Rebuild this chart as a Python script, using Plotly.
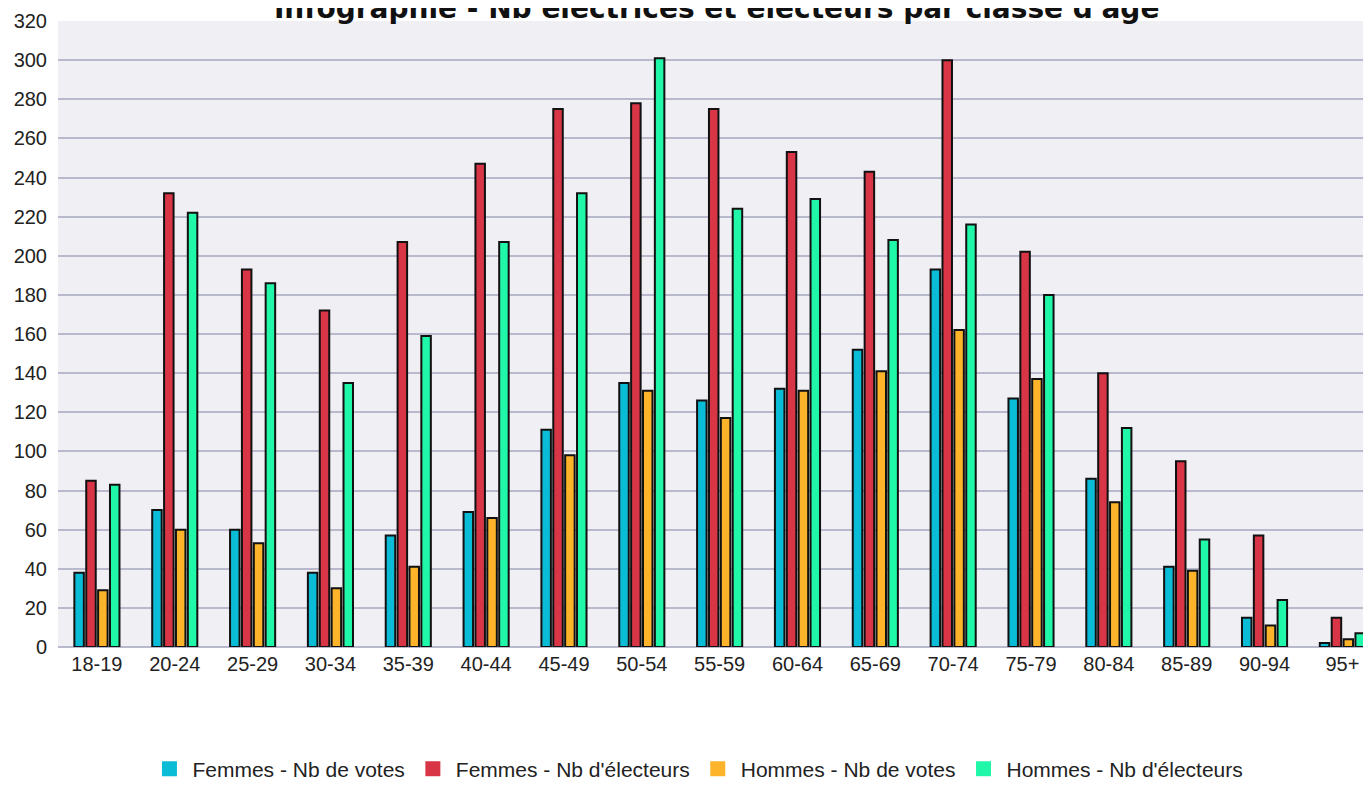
import plotly.graph_objects as go

categories = ["18-19", "20-24", "25-29", "30-34", "35-39", "40-44", "45-49", "50-54",
              "55-59", "60-64", "65-69", "70-74", "75-79", "80-84", "85-89", "90-94", "95+"]
femmes_votes = [38, 70, 60, 38, 57, 69, 111, 135, 126, 132, 152, 193, 127, 86, 41, 15, 2]
femmes_electeurs = [85, 232, 193, 172, 207, 247, 275, 278, 275, 253, 243, 300, 202, 140, 95, 57, 15]
hommes_votes = [29, 60, 53, 30, 41, 66, 98, 131, 117, 131, 141, 162, 137, 74, 39, 11, 4]
hommes_electeurs = [83, 222, 186, 135, 159, 207, 232, 301, 224, 229, 208, 216, 180, 112, 55, 24, 7]

series = [
    ("Femmes - Nb de votes", femmes_votes, "#0BBCD6"),
    ("Femmes - Nb d'électeurs", femmes_electeurs, "#D83547"),
    ("Hommes - Nb de votes", hommes_votes, "#FDB42A"),
    ("Hommes - Nb d'électeurs", hommes_electeurs, "#20F7A8"),
]

fig = go.Figure()
for name, vals, color in series:
    fig.add_trace(go.Bar(
        x=categories, y=vals, name=name, showlegend=False,
        marker=dict(color=color, line=dict(color="#111111", width=2)),
    ))
# legend entries (plain squares without outline, as in the reference)
for name, vals, color in series:
    fig.add_trace(go.Scatter(
        x=[None], y=[None], name=name, mode="markers",
        marker=dict(color=color, symbol="square", size=15),
    ))

fig.update_layout(
    width=1355, height=775,
    margin=dict(l=50, r=0, t=13, b=136, autoexpand=False),
    paper_bgcolor="white",
    plot_bgcolor="#EFEFF4",
    barmode="group",
    bargap=0.39,
    bargroupgap=0.2,
    font=dict(family="Liberation Sans, Arial, sans-serif", size=20, color="#222222"),
    title=dict(
        text="<b>Infographie - Nb électrices et électeurs par classe d'âge</b>",
        x=0.523, xanchor="center", y=1.0, yanchor="middle",
        font=dict(family="DejaVu Sans, Verdana, sans-serif", size=28, color="#111111"),
    ),
    legend=dict(
        orientation="h", x=0.49, xanchor="center", y=-0.195, yanchor="middle",
        font=dict(size=21, color="#222222"),
        itemwidth=36,
    ),
    xaxis=dict(
        range=[-0.5, 16.265],
        showgrid=False, showline=False, ticks="", automargin=False,
        tickfont=dict(size=20), ticklabelstandoff=3,
    ),
    yaxis=dict(
        range=[0, 320], dtick=20, showgrid=True, gridcolor="#B9B9CD", gridwidth=2,
        zeroline=True, zerolinecolor="#B9B9CD", zerolinewidth=2, automargin=False,
        showline=False, ticks="", tickfont=dict(size=20), ticklabelstandoff=10,
    ),
)

fig.write_html("out.html")
